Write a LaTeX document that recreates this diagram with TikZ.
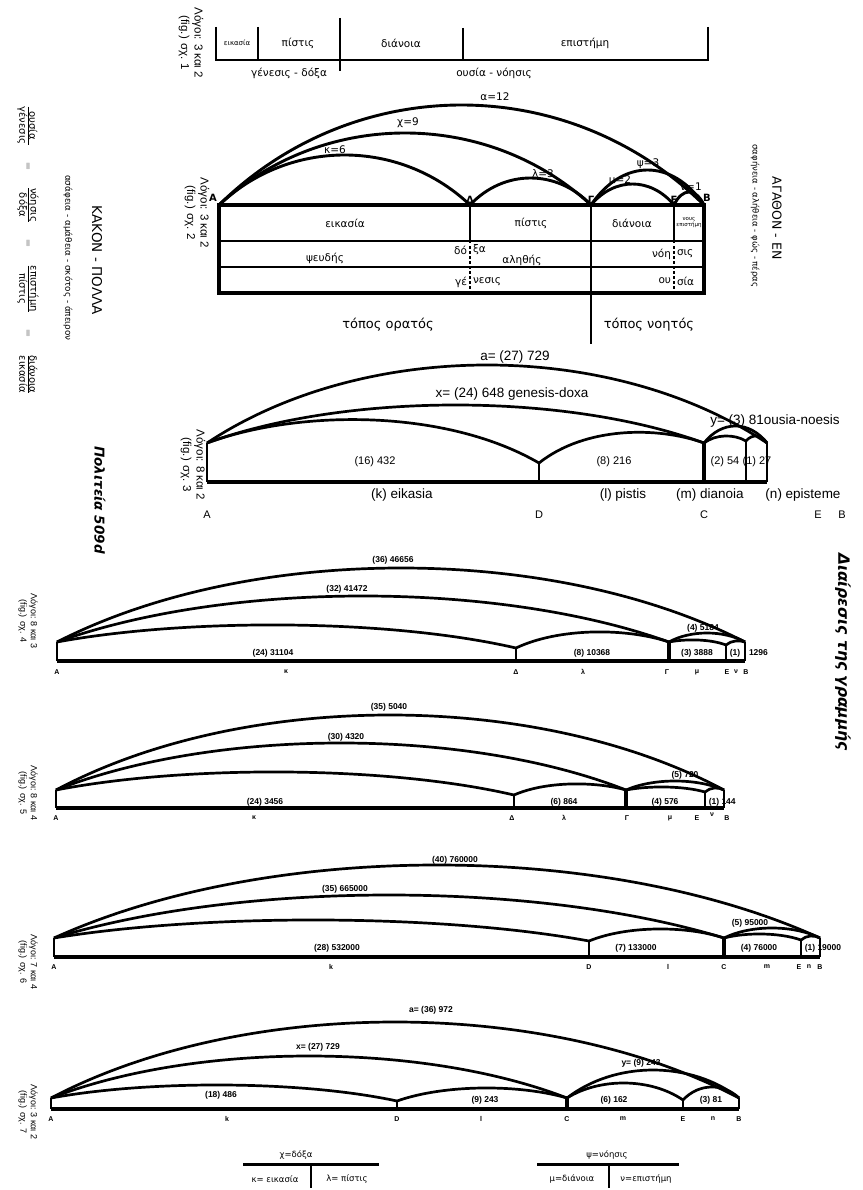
\documentclass[tikz,border=0pt]{standalone}
\usepackage{fontspec}
\setmainfont{Liberation Sans}
\newfontfamily\djv{DejaVu Sans}
\newcommand\harc[6][]{\draw[arcline,#1] (#2,#3) .. controls ({#2+0.28*(#4-#2)},{(8*#6-#3-#5)/6}) and ({#4-0.28*(#4-#2)},{(8*#6-#3-#5)/6}) .. (#4,#5);}
\tikzset{
  arcline/.style={line width=2.7pt},
  thinv/.style={line width=1.4pt},
  thickv/.style={line width=4.8pt},
  basel/.style={line width=3.8pt},
  tx/.style={inner sep=0pt, outer sep=0pt, text=black},
  gA/.style={tx, font=\djv\fontsize{10.5}{12}\selectfont},
  gS/.style={tx, font=\djv\fontsize{5.5}{6}\selectfont, align=center},
  gT/.style={tx, font=\djv\fontsize{13}{15}\selectfont},
  gL/.style={tx, font=\djv\bfseries\fontsize{10}{12}\selectfont},
  tA/.style={tx, font=\fontsize{13.5}{15}\selectfont},
  tB/.style={tx, font=\fontsize{11}{12}\selectfont},
  sm/.style={tx, font=\bfseries\fontsize{8.5}{9}\selectfont},
  lb/.style={tx, font=\bfseries\fontsize{7}{8}\selectfont},
  rot/.style={tx, rotate=-90, align=center},
  lg/.style={rot, font=\fontsize{11.5}{13.5}\selectfont},
  lgs/.style={rot, font=\fontsize{9}{10.5}\selectfont},
  leg/.style={tx, font=\djv\fontsize{8.5}{10}\selectfont},
}
\begin{document}
\begin{tikzpicture}[x=1pt,y=-1pt]
\fill[white] (0,0) rectangle (862,1190);
\useasboundingbox (0,0) rectangle (862,1190);

% ---------- side texts ----------
\node[lg] (lg1) at (191,43) {Λόγοι: 3 και 2\\(fig.) σχ. 1};
\node[lg] (lg2) at (197,213) {Λόγοι: 3 και 2\\(fig.) σχ. 2};
\node[lg] (lg3) at (193,465) {Λόγοι: 8 και 2\\(fig.) σχ. 3};
\node[lgs] (lg4) at (28,621) {Λόγοι: 8 και 3\\(fig.) σχ. 4};
\node[lgs] (lg5) at (28,793) {Λόγοι: 8 και 4\\(fig.) σχ. 5};
\node[lgs] (lg6) at (28,962) {Λόγοι: 7 και 4\\(fig.) σχ. 6};
\node[lgs] (lg7) at (28,1112) {Λόγοι: 3 και 2\\(fig.) σχ. 7};

\node[rot, font=\djv\fontsize{13.5}{15}\selectfont] (kakon) at (97,260) {ΚΑΚΟΝ - ΠΟΛΛΑ};
\node[rot, font=\djv\fontsize{8.8}{10}\selectfont] (asaf) at (68,258) {ασάφεια - αμάθεια - σκότος - άπειρον};
\node[rot, font=\djv\fontsize{10}{11}\selectfont] (frac) at (28,250)
  {$\frac{\mbox{ουσία}}{\mbox{γένεσις}}\hspace{14pt}=\hspace{14pt}\frac{\mbox{νόησις}}{\mbox{δόξα}}\hspace{14pt}=\hspace{14pt}\frac{\mbox{επιστήμη}}{\mbox{πίστις}}\hspace{14pt}=\hspace{14pt}\frac{\mbox{διάνοια}}{\mbox{εικασία}}$};
\node[rot, font=\djv\bfseries\itshape\fontsize{13.5}{15}\selectfont] (polit) at (100,500) {Πολιτεία 509d};

\node[rot, font=\djv\fontsize{12.5}{14}\selectfont] (agathon) at (777,218) {ΑΓΑΘΟΝ - ΕΝ};
\node[rot, font=\djv\fontsize{8.5}{10}\selectfont] (safen) at (755,216) {σαφήνεια - αλήθεια - φώς - πέρας};
\node[rot, font=\djv\bfseries\itshape\fontsize{15.5}{17}\selectfont] (diair) at (843,652) {Διαίρεσις της γραμμής};

% ---------- fig 1 ----------
\draw[line width=2.8pt] (216,60) -- (708,60);
\draw[line width=2.1pt] (216,27) -- (216,61) (258,27) -- (258,61) (463,28) -- (463,61) (708,27) -- (708,61);
\draw[line width=2.3pt] (340,18) -- (340,71);
\node[tx, font=\djv\fontsize{7}{8}\selectfont] (f1a) at (237,43) {εικασία};
\node[gA] (f1b) at (298,43) {πίστις};
\node[gA] (f1c) at (401,43) {διάνοια};
\node[gA] (f1d) at (585,43) {επιστήμη};
\node[gA] (f1e) at (289,73) {γένεσις - δόξα};
\node[gA] (f1f) at (494,73) {ουσία - νόησις};

% ---------- fig 2 ----------
\harc[line width=2.9pt]{219}{205}{704}{205}{105}
\harc[line width=2.9pt]{219}{205}{591}{205}{133}
\harc[line width=2.9pt]{219}{205}{470}{205}{155}
\harc[line width=2.9pt]{470}{205}{591}{205}{178}
\harc[line width=2.9pt]{591}{205}{704}{205}{170}
\harc[line width=2.9pt]{591}{205}{674}{205}{184}
\harc[line width=2.9pt]{674}{205}{704}{205}{192}
\node[gA] (l12) at (495,97) {α=12};
\node[gA] (l9) at (408,123) {χ=9};
\node[gA] (l6) at (335,150) {κ=6};
\node[gA] (l3) at (543,174) {λ=3};
\node[gA] (lp3) at (648,164) {ψ=3};
\node[gA] (lm2) at (620,181) {μ=2};
\node[gA] (ln1) at (691,187) {ν=1};
\node[gL] (pA) at (213,198) {A};
\node[gL] (pD) at (470,200) {Δ};
\node[gL] (pG) at (591,200) {Γ};
\node[gL] (pE) at (674,200) {Ε};
\node[gL] (pB) at (707,198) {B};

\draw[line width=1.7pt] (219,241) -- (704,241) (219,267) -- (704,267);
\draw[line width=1.9pt] (470,205) -- (470,241) (674,205) -- (674,241);
\draw[line width=2.3pt] (591,205) -- (591,344);
\draw[line width=2pt, dash pattern=on 2.5pt off 2.5pt] (470,241) -- (470,293) (674,241) -- (674,293);
\draw[line width=4.2pt] (219,205) rectangle (704,293);

\node[gA] (c11) at (345,223) {εικασία};
\node[gA] (c12) at (531,223) {πίστις};
\node[gA] (c13) at (632,223) {διάνοια};
\node[gS] (c14) at (689,223) {νους\\επιστήμη};
\node[gA] (c21) at (325,258) {ψευδής};
\node[gA, anchor=east] (c22) at (467,250) {δό};
\node[gA, anchor=west] (c23) at (473,250) {ξα};
\node[gA] (c24) at (522,260) {αληθής};
\node[gA, anchor=east] (c25) at (671,254) {νόη};
\node[gA, anchor=west] (c26) at (677,254) {σις};
\node[gA, anchor=east] (c31) at (467,282) {γέ};
\node[gA, anchor=west] (c32) at (473,282) {νεσις};
\node[gA, anchor=east] (c33) at (671,281) {ου};
\node[gA, anchor=west] (c34) at (677,281) {σία};
\node[gT] (tor) at (388,325) {τόπος ορατός};
\node[gT] (tno) at (649,325) {τόπος νοητός};

% ---------- fig 3 ----------
\node[tA] (f3a) at (515,357) {a= (27) 729};
\node[tA] (f3x) at (512,394) {x= (24) 648 genesis-doxa};
\node[tA] (f3y) at (775,421) {y= (3) 81ousia-noesis};
\node[tB] (f3n1) at (375,462) {(16) 432};
\node[tB] (f3n2) at (614,462) {(8) 216};
\node[tB] (f3n3) at (725,462) {(2) 54};
\node[tB] (f3n4) at (757,462) {(1) 27};
\harc{207}{443}{767}{443}{365}
\harc{207}{443}{704}{443}{405}
\harc{207}{443}{539}{463}{420}
\harc{539}{463}{704}{443}{433}
\harc{704}{443}{767}{443}{426}
\harc{704}{443}{746}{441}{436}
\harc{746}{441}{767}{443}{436}
\draw[basel] (207,482) -- (767,482);
\draw[thinv] (207,443) -- (207,482) (539,463) -- (539,482) (746,441) -- (746,482) (767,443) -- (767,482);
\draw[thickv] (704,443) -- (704,482);
\node[tA] (f3k) at (402,495) {(k) eikasia};
\node[tA] (f3l) at (623,495) {(l) pistis};
\node[tA] (f3m) at (710,495) {(m) dianoia};
\node[tA] (f3nn) at (803,495) {(n) episteme};
\node[tB] (f3A) at (207,515) {A};
\node[tB] (f3D) at (539,515) {D};
\node[tB] (f3C) at (704,515) {C};
\node[tB] (f3E) at (818,515) {E};
\node[tB] (f3B) at (842,515) {B};

% ---------- fig 4 ----------
\node[sm] (f4a) at (393,560) {(36) 46656};
\node[sm] (f4b) at (347,589) {(32) 41472};
\node[sm] (f4c) at (273,653) {(24) 31104};
\node[sm] (f4d) at (592,653) {(8) 10368};
\node[sm] (f4e) at (703,628) {(4) 5184};
\node[sm] (f4f) at (697,653) {(3) 3888};
\node[sm] (f4g) at (735,653) {(1)};
\node[sm, anchor=west] (f4h) at (749,653) {1296};
\harc{57}{642}{745}{642}{568}
\harc{57}{642}{669}{642}{596}
\harc{57}{642}{516}{648}{625}
\harc{516}{648}{669}{642}{632}
\harc{669}{642}{745}{642}{633}
\harc{669}{642}{726}{645}{640}
\harc{726}{645}{745}{642}{641}
\draw[basel] (57,661) -- (745,661);
\draw[thinv] (57,642) -- (57,661) (516,648) -- (516,661) (726,645) -- (726,661);
\draw[line width=2.4pt] (745,642) -- (745,661);
\draw[thickv] (669,642) -- (669,661);
\node[lb] (f4A) at (57,672) {A};
\node[lb] (f4k) at (286,672) {κ};
\node[lb] (f4D) at (516,672) {Δ};
\node[lb] (f4l) at (583,672) {λ};
\node[lb] (f4G) at (667,672) {Γ};
\node[lb] (f4m) at (697,672) {μ};
\node[lb] (f4E) at (727,672) {E};
\node[lb] (f4n) at (736,672) {ν};
\node[lb] (f4B) at (746,672) {B};

% ---------- fig 5 ----------
\node[sm] (f5a) at (389,707) {(35) 5040};
\node[sm] (f5b) at (346,737) {(30) 4320};
\node[sm] (f5c) at (265,802) {(24) 3456};
\node[sm] (f5d) at (564,802) {(6) 864};
\node[sm] (f5e) at (685,775) {(5) 720};
\node[sm] (f5f) at (665,802) {(4) 576};
\node[sm] (f5g) at (714,802) {(1)};
\node[sm, anchor=west] (f5h) at (721.5,802) {144};
\harc{56}{790}{724}{790}{715}
\harc{56}{790}{626}{790}{743}
\harc{56}{790}{514}{795}{772}
\harc{514}{795}{626}{790}{784}
\harc{626}{790}{724}{790}{781}
\harc{626}{790}{705}{792}{787}
\harc{705}{792}{724}{790}{788}
\draw[basel] (56,808) -- (724,808);
\draw[thinv] (56,790) -- (56,808) (514,795) -- (514,808) (705,792) -- (705,808);
\draw[line width=2.6pt] (724,790) -- (724,808);
\draw[thickv] (626,790) -- (626,808);
\node[lb] (f5A) at (56,818) {A};
\node[lb] (f5k) at (254,818) {κ};
\node[lb] (f5D) at (512,818) {Δ};
\node[lb] (f5l) at (564,818) {λ};
\node[lb] (f5G) at (627,818) {Γ};
\node[lb] (f5m) at (670,818) {μ};
\node[lb] (f5E) at (697,818) {E};
\node[lb] (f5n) at (712,815) {ν};
\node[lb] (f5B) at (727,818) {B};

% ---------- fig 6 ----------
\node[sm] (f6a) at (455,860) {(40) 760000};
\node[sm] (f6b) at (345,889) {(35) 665000};
\node[sm] (f6c) at (337,948) {(28) 532000};
\node[sm] (f6d) at (636,948) {(7) 133000};
\node[sm] (f6e) at (750,923) {(5) 95000};
\node[sm] (f6f) at (759,948) {(4) 76000};
\node[sm] (f6g) at (810,948) {(1)};
\node[sm, anchor=west] (f6h) at (817.5,948) {19000};
\harc{54}{938}{820}{938}{865}
\harc{54}{938}{724}{938}{895}
\harc{54}{938}{589}{941}{920}
\harc{589}{941}{724}{938}{929}
\harc{724}{938}{820}{938}{928}
\harc{724}{938}{801}{940}{934}
\harc{801}{940}{820}{938}{936}
\draw[basel] (54,957) -- (820,957);
\draw[thinv] (54,938) -- (54,957) (589,941) -- (589,957) (801,940) -- (801,957);
\draw[line width=2.6pt] (820,938) -- (820,957);
\draw[thickv] (724,938) -- (724,957);
\node[lb] (f6A) at (54,967) {A};
\node[lb] (f6k) at (331,967) {k};
\node[lb] (f6D) at (589,967) {D};
\node[lb] (f6l) at (668,967) {l};
\node[lb] (f6C) at (724,967) {C};
\node[lb] (f6m) at (767,967) {m};
\node[lb] (f6E) at (799,967) {E};
\node[lb] (f6n) at (809,967) {n};
\node[lb] (f6B) at (820,967) {B};

% ---------- fig 7 ----------
\node[sm] (f7a) at (431,1010) {a= (36) 972};
\node[sm] (f7x) at (318,1047) {x= (27) 729};
\node[sm] (f7y) at (641,1063) {y= (9) 243};
\node[sm] (f7c) at (221,1095) {(18) 486};
\node[sm] (f7d) at (485,1100) {(9) 243};
\node[sm] (f7e) at (614,1100) {(6) 162};
\node[sm] (f7f) at (711,1100) {(3) 81};
\harc{51}{1098}{739}{1098}{1022}
\harc{51}{1098}{567}{1098}{1056}
\harc{51}{1098}{397}{1101}{1085}
\harc{397}{1101}{567}{1098}{1088}
\harc{567}{1098}{739}{1098}{1070}
\harc{567}{1098}{683}{1100}{1083}
\harc{683}{1100}{739}{1098}{1087}
\draw[basel] (51,1109) -- (739,1109);
\draw[thinv] (51,1098) -- (51,1109) (397,1101) -- (397,1109) (683,1100) -- (683,1109);
\draw[line width=2.2pt] (739,1098) -- (739,1109);
\draw[thickv] (567,1096) -- (567,1109);
\node[lb] (f7A) at (51,1119) {A};
\node[lb] (f7k) at (227,1119) {k};
\node[lb] (f7D) at (397,1119) {D};
\node[lb] (f7l) at (481,1119) {l};
\node[lb] (f7C) at (567,1119) {C};
\node[lb] (f7m) at (623,1119) {m};
\node[lb] (f7E) at (683,1119) {E};
\node[lb] (f7n) at (713,1119) {n};
\node[lb] (f7B) at (739,1119) {B};

% ---------- legend ----------
\node[leg] (lx) at (296,1155) {χ=δόξα};
\draw[line width=3pt] (243,1164) -- (379,1164);
\draw[line width=1.5pt] (311,1164) -- (311,1188);
\node[leg] (lk) at (275,1179) {κ= εικασία};
\node[leg] (ll) at (347,1179) {λ= πίστις};
\node[leg] (lps) at (607,1155) {ψ=νόησις};
\draw[line width=3pt] (537,1164) -- (679,1164);
\draw[line width=1.5pt] (609,1164) -- (609,1188);
\node[leg] (lm) at (572,1179) {μ=διάνοια};
\node[leg] (lv) at (646,1179) {ν=επιστήμη};
\end{tikzpicture}
\end{document}
